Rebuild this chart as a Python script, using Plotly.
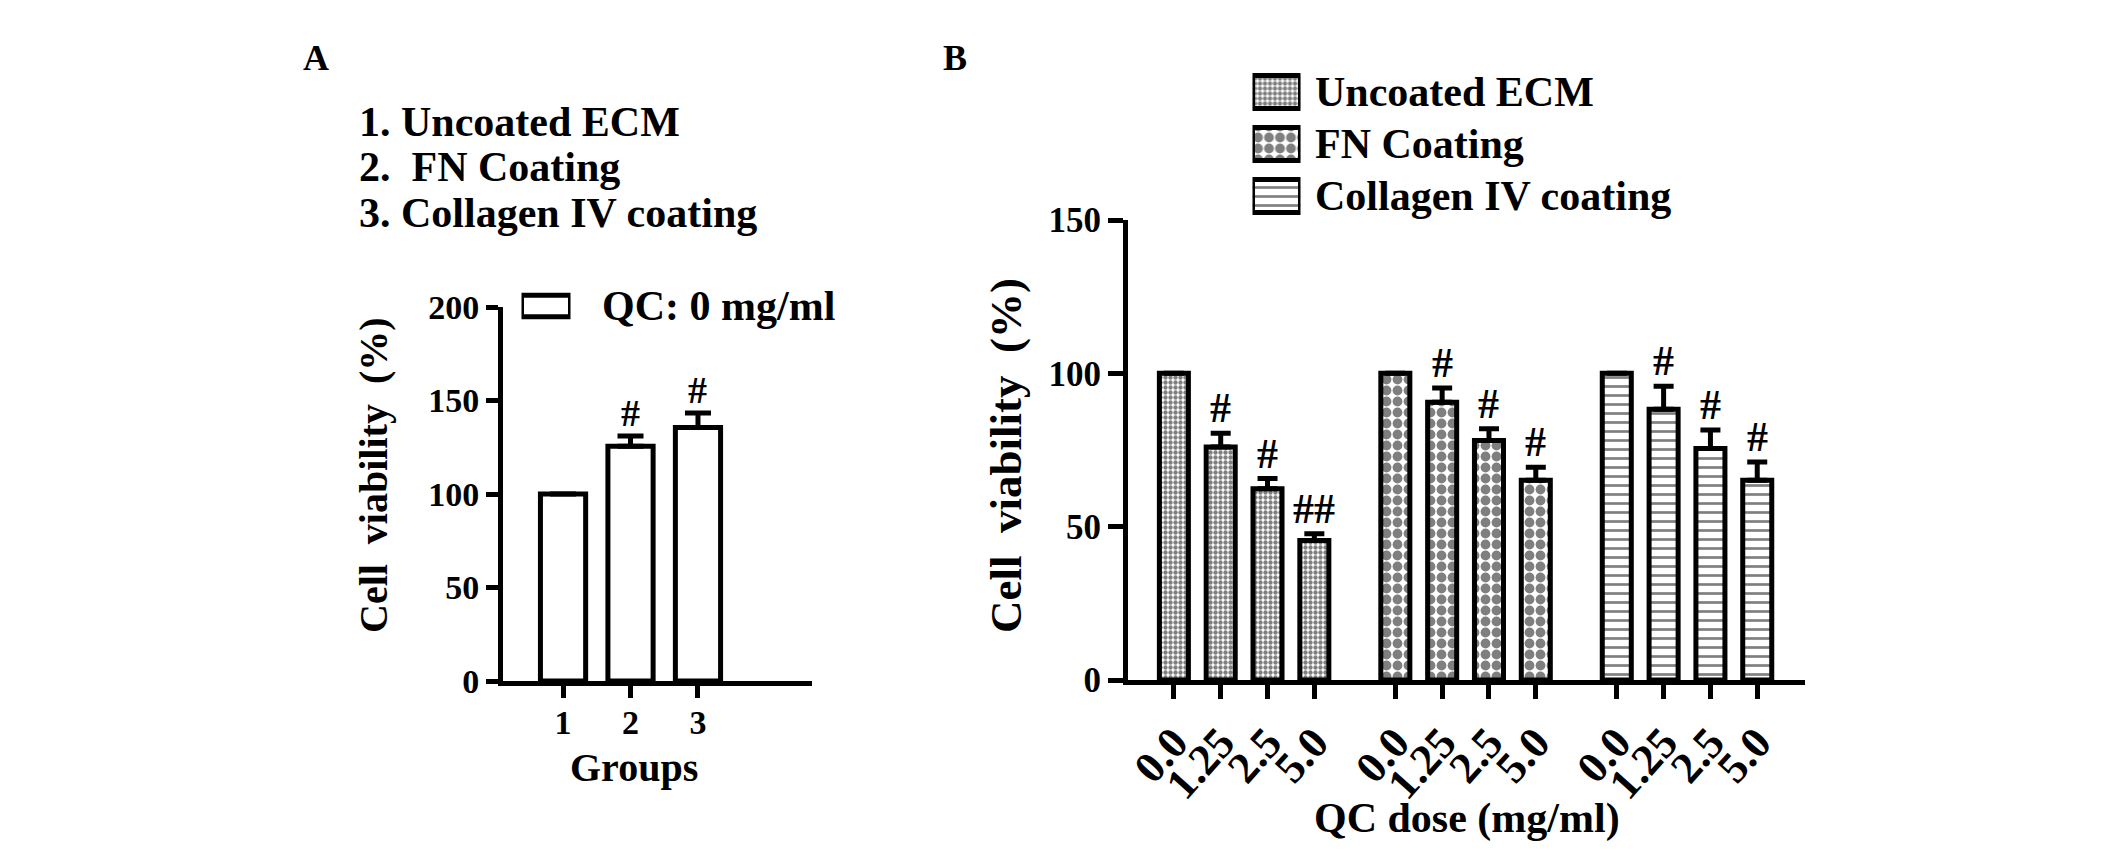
import plotly.graph_objects as go

W, H = 2126, 851
FONT = "Liberation Serif"

# ---- panel A data ----
GROUPS_A = ["1", "2", "3"]
VIAB_A = [100, 125.5, 135.5]
ERR_A = [0, 5.5, 7.8]
SIG_A = ["", "#", "#"]
LIST_A = ["1. Uncoated ECM", "2.  FN Coating", "3. Collagen IV coating"]
LEGEND_A = "QC: 0 mg/ml"

# ---- panel B data ----
COATINGS = ["Uncoated ECM", "FN Coating", "Collagen IV coating"]
DOSES = ["0.0", "1.25", "2.5", "5.0"]
VIAB_UNCOATED = [100, 76, 62.4, 45.5]
ERR_UNCOATED = [0, 4.5, 3.3, 2.2]
SIG_UNCOATED = ["", "#", "#", "##"]
VIAB_FN = [100, 90.6, 78.1, 65.1]
ERR_FN = [0, 4.6, 3.8, 4.3]
SIG_FN = ["", "#", "#", "#"]
VIAB_COL4 = [100, 88.3, 75.5, 65.1]
ERR_COL4 = [0, 7.5, 6.0, 6.0]
SIG_COL4 = ["", "#", "#", "#"]

SERIES_B = [
    (VIAB_UNCOATED, ERR_UNCOATED, SIG_UNCOATED),
    (VIAB_FN, ERR_FN, SIG_FN),
    (VIAB_COL4, ERR_COL4, SIG_COL4),
]
PATTERNS = [
    dict(shape=".", size=5, solidity=0.6),
    dict(shape=".", size=11, solidity=0.62),
    dict(shape="-", size=9, solidity=0.3),
]
GROUP_STEP = 4.73


def px(x):
    return x / W


def py(y):
    return 1 - y / H


def bold(size):
    return dict(family=FONT, size=size, color="black", weight="bold")


fig = go.Figure()
annotations = []

# panel A bars
fig.add_trace(go.Bar(
    x=[1, 2, 3], y=VIAB_A, width=0.67, xaxis="x", yaxis="y",
    marker=dict(color="white", line=dict(color="black", width=5)),
    error_y=dict(type="data", array=ERR_A, arrayminus=[0] * 3, symmetric=False,
                 color="black", thickness=5, width=13),
    showlegend=False,
))
for i, s in enumerate(SIG_A):
    if s:
        annotations.append(dict(x=i + 1, y=VIAB_A[i] + ERR_A[i], xref="x", yref="y",
                                text=s, yanchor="bottom", font=bold(38)))

# panel B bars
tick_pos, tick_txt = [], []
for g, (vals, errs, sigs) in enumerate(SERIES_B):
    xs = [g * GROUP_STEP + i for i in range(len(DOSES))]
    tick_pos += xs
    tick_txt += DOSES
    pat = dict(fgcolor="black", bgcolor="white", **PATTERNS[g])
    fig.add_trace(go.Bar(
        x=xs, y=vals, width=0.62, xaxis="x2", yaxis="y2", name=COATINGS[g],
        marker=dict(color="white", pattern=pat, line=dict(color="black", width=5)),
        error_y=dict(type="data", array=errs, arrayminus=[0] * len(errs),
                     symmetric=False, color="black", thickness=5, width=10),
        showlegend=False,
    ))
    for x, v, e, s in zip(xs, vals, errs, sigs):
        if s:
            annotations.append(dict(x=x, y=v + e, xref="x2", yref="y2", text=s,
                                    yanchor="bottom", font=bold(42)))

# legend B (patch boxes on a small helper axis)
fig.add_trace(go.Bar(
    y=COATINGS, x=[1, 1, 1], orientation="h", width=0.63, xaxis="x3", yaxis="y3",
    marker=dict(color="white", line=dict(color="black", width=5),
                pattern=dict(fgcolor="black", bgcolor="white",
                             shape=[p["shape"] for p in PATTERNS],
                             size=[p["size"] for p in PATTERNS],
                             solidity=[p["solidity"] for p in PATTERNS])),
    showlegend=False, hoverinfo="skip",
))
for name in COATINGS:
    annotations.append(dict(x=px(1313), y=name, yref="y3", text=name,
                            xanchor="left", font=bold(42)))

# legend A
fig.add_trace(go.Bar(
    y=[LEGEND_A], x=[1], orientation="h", width=0.6, xaxis="x4", yaxis="y4",
    marker=dict(color="white", line=dict(color="black", width=5)),
    showlegend=False, hoverinfo="skip",
))
annotations.append(dict(x=px(600), y=LEGEND_A, yref="y4", text=LEGEND_A,
                        xanchor="left", font=bold(42)))

axis_common = dict(showgrid=False, zeroline=False, showline=True, linecolor="black",
                   linewidth=5, ticks="outside", tickcolor="black", tickwidth=5,
                   automargin=False)
hidden = dict(visible=False, range=[0, 1], fixedrange=True)
helper_y = dict(showgrid=False, zeroline=False, showline=False, ticks="",
                showticklabels=False, fixedrange=True, automargin=False)

fig.update_layout(
    width=W, height=H,
    margin=dict(l=0, r=0, t=0, b=0, pad=0, autoexpand=False),
    paper_bgcolor="white", plot_bgcolor="white",
    font=bold(34),
    barmode="overlay",
    xaxis=dict(domain=[px(503), px(812)], range=[0.11, 4.69], anchor="y",
               tickvals=[1, 2, 3], ticktext=GROUPS_A, ticklen=12,
               ticklabelstandoff=-5, tickfont=bold(34), **axis_common),
    yaxis=dict(domain=[py(681), py(307)], range=[0, 200], anchor="x",
               tickvals=[0, 50, 100, 150, 200], ticklen=12,
               tickfont=bold(34), **axis_common),
    xaxis2=dict(domain=[px(1128), px(1805)], range=[-0.98, 13.48], anchor="y2",
                tickvals=tick_pos, ticktext=tick_txt, tickangle=-48, ticklen=14,
                tickfont=bold(44), **axis_common),
    yaxis2=dict(domain=[py(680), py(220)], range=[0, 150], anchor="x2",
                tickvals=[0, 50, 100, 150], ticklen=15,
                tickfont=bold(35), **axis_common),
    xaxis3=dict(domain=[px(1252.5), px(1300.5)], anchor="y3", **hidden),
    yaxis3=dict(domain=[py(222), py(66)], anchor="x3", autorange="reversed",
                **helper_y),
    xaxis4=dict(domain=[px(521.5), px(570.5)], anchor="y4", **hidden),
    yaxis4=dict(domain=[py(324), py(281)], anchor="x4", **helper_y),
)

# texts
for txt, yc in zip(LIST_A, [122, 167, 213]):
    annotations.append(dict(x=px(357), y=py(yc), text=txt, xanchor="left",
                            font=bold(42)))
annotations += [
    dict(x=px(316), y=py(58), text="A", font=bold(36)),
    dict(x=px(955), y=py(58), text="B", font=bold(36)),
    dict(x=px(373), y=py(475), text="Cell  viability  (%)", textangle=-90,
         font=bold(40)),
    dict(x=px(1006), y=py(456), text="Cell  viability  (%)", textangle=-90,
         font=bold(45)),
    dict(x=px(634), y=py(767), text="Groups", font=bold(40)),
    dict(x=px(1467), y=py(818), text="QC dose (mg/ml)", font=bold(42)),
]
for a in annotations:
    a.setdefault("xref", "paper")
    a.setdefault("yref", "paper")
    a.setdefault("showarrow", False)
    a.setdefault("xanchor", "center")
    a.setdefault("yanchor", "middle")

fig.update_layout(annotations=annotations)

fig.write_html(
    "out.html",
    config={"displayModeBar": False},
    post_script="document.body.style.margin='0';",
)
